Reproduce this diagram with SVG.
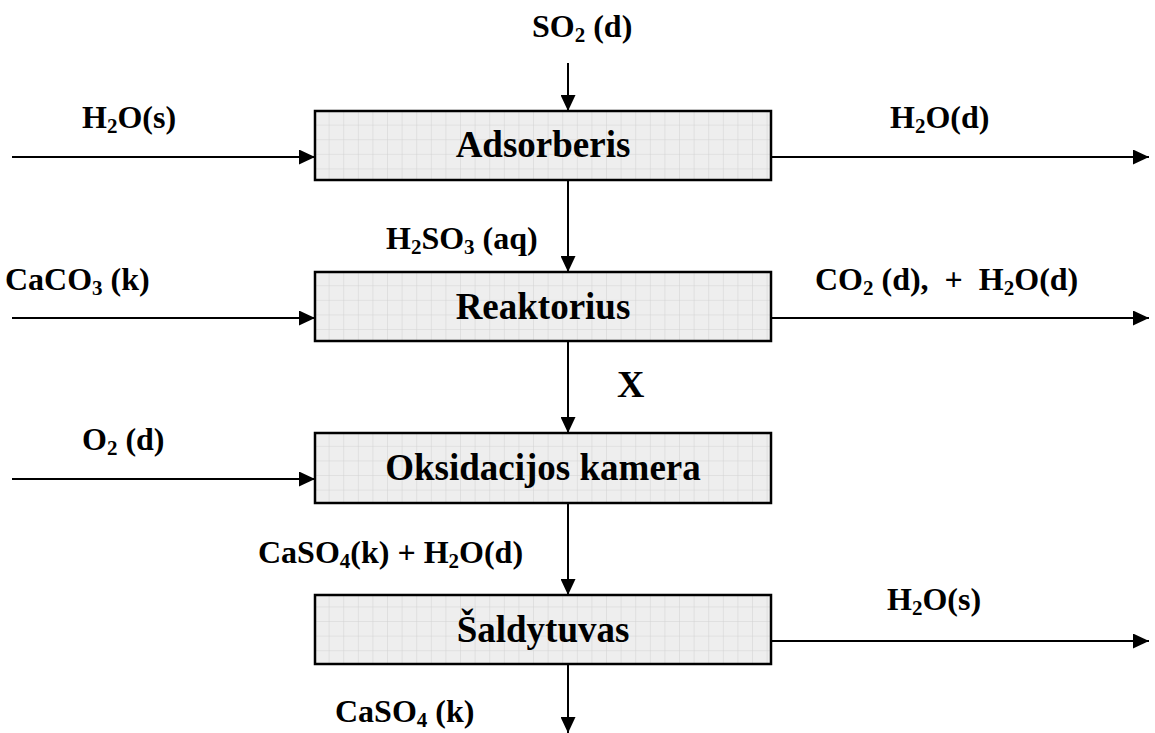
<svg xmlns="http://www.w3.org/2000/svg" width="1155" height="733" viewBox="0 0 1155 733">
<style>
.box{fill:url(#grid);stroke:#000;stroke-width:2.5}
.lbl{font-family:"Liberation Serif","Times New Roman",serif;font-weight:bold;font-size:32px;fill:#000}
.blbl{font-family:"Liberation Serif","Times New Roman",serif;font-weight:bold;font-size:37px;fill:#000;text-anchor:middle}
.sub{font-size:21px}
.conn{stroke:#000;stroke-width:2;fill:none;marker-end:url(#ah)}
</style>
<defs>
<pattern id="grid" patternUnits="userSpaceOnUse" x="315" y="111" width="14.6" height="14.6">
<rect width="14.6" height="14.6" fill="#eeeeee"/>
<path d="M14.6,0 V14.6 M0,14.6 H14.6" stroke="#d2d2d2" stroke-width="1" fill="none"/>
</pattern>
<marker id="ah" markerUnits="userSpaceOnUse" markerWidth="16" markerHeight="15" refX="16" refY="7.5" orient="auto">
<path d="M0,0 L16,7.5 L0,15 z" fill="#000"/>
</marker>
</defs>
<rect width="1155" height="733" fill="#fff"/>
<g id="connectors">
<line class="conn" x1="568" y1="63" x2="568" y2="111"/>
<line class="conn" x1="568" y1="180" x2="568" y2="272"/>
<line class="conn" x1="568" y1="341" x2="568" y2="433"/>
<line class="conn" x1="568" y1="503" x2="568" y2="595"/>
<line class="conn" x1="568" y1="664" x2="568" y2="733"/>
<line class="conn" x1="12" y1="157" x2="315" y2="157"/>
<line class="conn" x1="12" y1="318" x2="315" y2="318"/>
<line class="conn" x1="12" y1="479" x2="315" y2="479"/>
<line class="conn" x1="771" y1="157" x2="1149" y2="157"/>
<line class="conn" x1="771" y1="318" x2="1149" y2="318"/>
<line class="conn" x1="771" y1="641" x2="1149" y2="641"/>
</g>
<g id="adsorberis">
<rect class="box" x="315" y="111" width="456" height="69"/>
<text class="blbl" x="543" y="157">Adsorberis</text>
</g>
<g id="reaktorius">
<rect class="box" x="315" y="272" width="456" height="69"/>
<text class="blbl" x="543" y="319">Reaktorius</text>
</g>
<g id="oksidacijos">
<rect class="box" x="315" y="433" width="456" height="70"/>
<text class="blbl" x="543" y="480">Oksidacijos kamera</text>
</g>
<g id="saldytuvas">
<rect class="box" x="315" y="595" width="456" height="69"/>
<text class="blbl" x="543" y="642">Šaldytuvas</text>
</g>
<g id="labels">
<text class="lbl" x="532" y="37">SO<tspan class="sub" dy="5">2</tspan><tspan dy="-5"> (d)</tspan></text>
<text class="lbl" x="82" y="128">H<tspan class="sub" dy="5">2</tspan><tspan dy="-5">O(s)</tspan></text>
<text class="lbl" x="890" y="128">H<tspan class="sub" dy="5">2</tspan><tspan dy="-5">O(d)</tspan></text>
<text class="lbl" x="386" y="249">H<tspan class="sub" dy="5">2</tspan><tspan dy="-5">SO</tspan><tspan class="sub" dy="5">3</tspan><tspan dy="-5"> (aq)</tspan></text>
<text class="lbl" x="5" y="290">CaCO<tspan class="sub" dy="5">3</tspan><tspan dy="-5"> (k)</tspan></text>
<text class="lbl" x="815" y="290">CO<tspan class="sub" dy="5">2</tspan><tspan dy="-5"> (d), &#160;+ &#160;H</tspan><tspan class="sub" dy="5">2</tspan><tspan dy="-5">O(d)</tspan></text>
<text class="lbl" x="617" y="397" style="font-size:38px">X</text>
<text class="lbl" x="82" y="450">O<tspan class="sub" dy="5">2</tspan><tspan dy="-5"> (d)</tspan></text>
<text class="lbl" x="258" y="563">CaSO<tspan class="sub" dy="5">4</tspan><tspan dy="-5">(k) + H</tspan><tspan class="sub" dy="5">2</tspan><tspan dy="-5">O(d)</tspan></text>
<text class="lbl" x="887" y="610">H<tspan class="sub" dy="5">2</tspan><tspan dy="-5">O(s)</tspan></text>
<text class="lbl" x="335" y="722">CaSO<tspan class="sub" dy="5">4</tspan><tspan dy="-5"> (k)</tspan></text>
</g>
</svg>
